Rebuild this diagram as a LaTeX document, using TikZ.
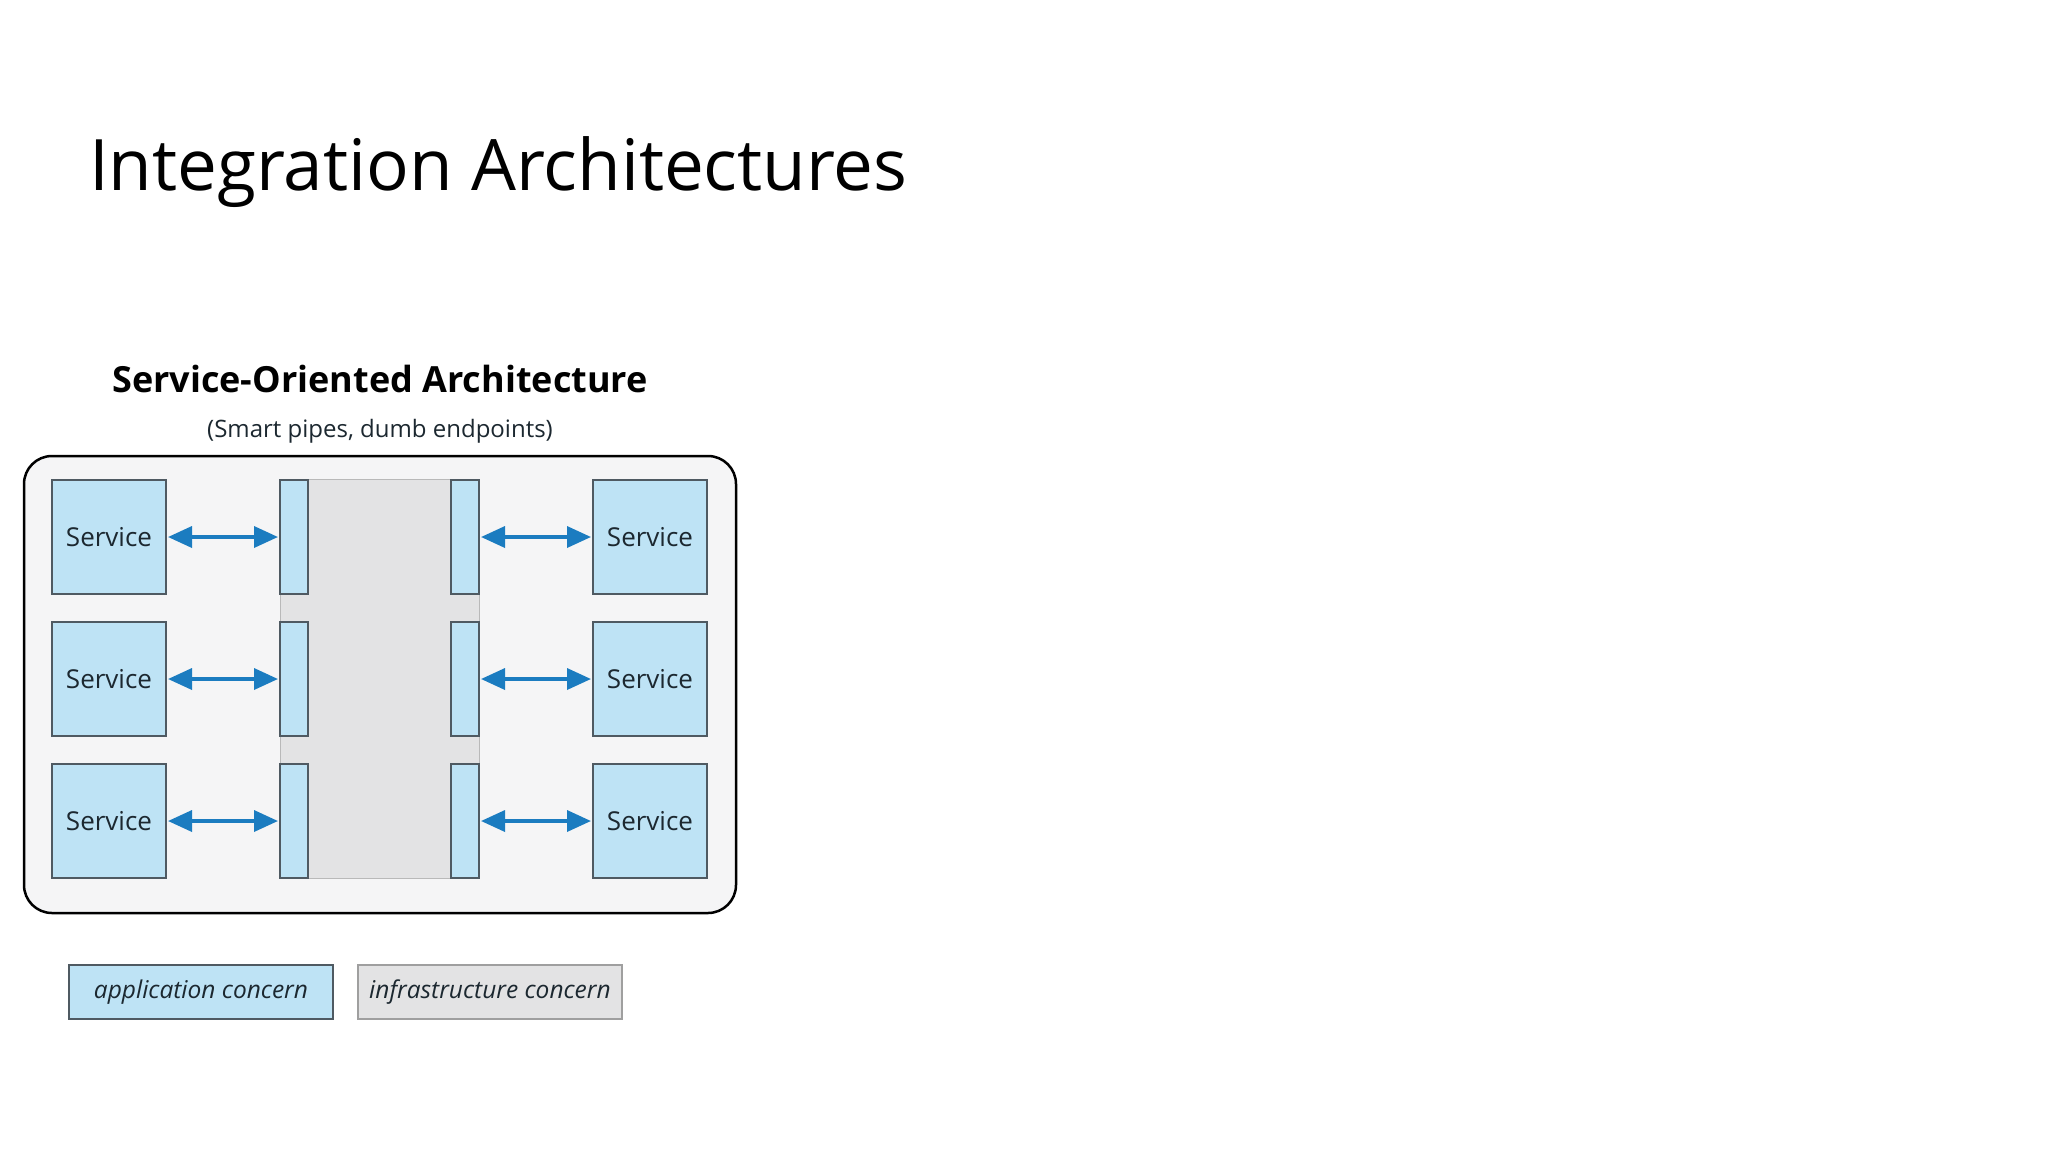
\documentclass[tikz,border=0pt]{standalone}
\usepackage{fontspec}
\setmainfont{Open Sans}
\usetikzlibrary{arrows.meta}

\definecolor{appblue}{HTML}{BEE3F5}
\definecolor{infragrey}{HTML}{E3E3E4}
\definecolor{panelgrey}{HTML}{F5F5F6}
\definecolor{arrowblue}{HTML}{1B7CC0}
\definecolor{boxline}{HTML}{4F5A62}
\definecolor{inktext}{HTML}{1C2830}

\begin{document}
\begin{tikzpicture}[x=1pt, y=-1pt,
	every node/.style={inner sep=0pt, outer sep=0pt, text=inktext},
	service/.style={rectangle, draw=boxline, line width=1.6pt, fill=appblue, minimum width=114pt, minimum height=114pt, font=\fontsize{26}{30}\selectfont},
	adapter/.style={rectangle, draw=boxline, line width=1.6pt, fill=appblue, minimum width=28pt, minimum height=114pt},
	link/.style={color=arrowblue, line width=3.5pt, {Triangle[length=24pt,width=21pt]}-{Triangle[length=24pt,width=21pt]}, shorten <=2pt, shorten >=2pt},
	legendbox/.style={rectangle, line width=1.6pt, minimum width=264pt, minimum height=54pt, font=\itshape\fontsize{24.5}{28}\selectfont}]
			\fill[white] (0,0) rectangle (2048,1152);
			\useasboundingbox (0,0) rectangle (2048,1152);
			
			\node[anchor=base west, text=black, font=\fontsize{71}{84}\selectfont] (title) at (89,190){Integration Architectures};
			
			\node[anchor=base, text=black, font=\bfseries\fontsize{36}{42}\selectfont] (soa) at (380,392){Service-Oriented Architecture};
			\node[anchor=base, font=\fontsize{24}{28}\selectfont] (motto) at (380,437){(Smart pipes, dumb endpoints)};
			
			\node[rectangle, draw=black, line width=2.5pt, rounded corners=28pt, fill=panelgrey, minimum width=712pt, minimum height=457pt] (panel) at (380,684.5){};
			\node[rectangle, draw=gray!55, line width=1pt, fill=infragrey, minimum width=199pt, minimum height=399pt] (bus) at (379.5,679){};
			
			\foreach \r/\y in {1/537,2/679,3/821}{
				\node[service] (ls\r) at (109,\y){Service};
				\node[adapter] (la\r) at (294,\y){};
				\node[adapter] (ra\r) at (465,\y){};
				\node[service] (rs\r) at (650,\y){Service};
				\path[link] (ls\r) edge (la\r);
				\path[link] (ra\r) edge (rs\r);
			}
			
			\node[legendbox, draw=boxline, fill=appblue] (app) at (201,992){application concern};
			\node[legendbox, draw=gray!75, fill=infragrey] (infra) at (490,992){infrastructure concern};
\end{tikzpicture}
\end{document}
